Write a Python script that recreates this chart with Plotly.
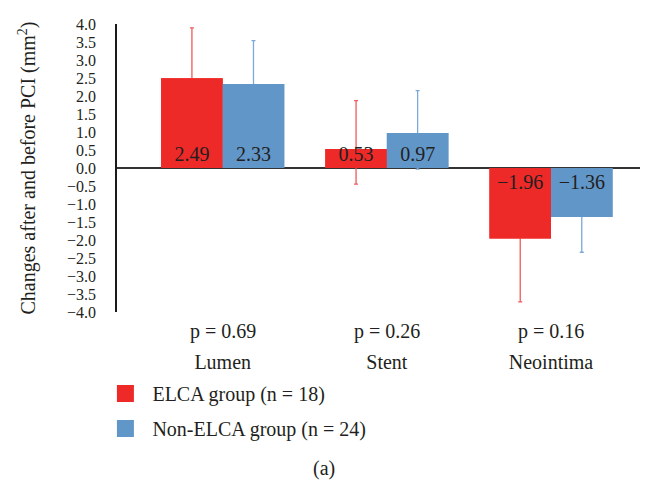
import plotly.graph_objects as go

# ---- data ----
categories = ["Lumen", "Stent", "Neointima"]
p_values = ["p = 0.69", "p = 0.26", "p = 0.16"]
elca_values = [2.49, 0.53, -1.96]
elca_err_plus = [1.40, 1.34, 1.76]
elca_err_minus = [1.40, 0.98, 1.76]
non_elca_values = [2.33, 0.97, -1.36]
non_elca_err_plus = [1.21, 1.18, 0.98]
non_elca_err_minus = [1.21, 1.00, 0.98]
series_names = ["ELCA group (n = 18)", "Non-ELCA group (n = 24)"]
panel_label = "(a)"

def fmt(v):
    s = f"{abs(v):.2f}"
    return ("\u2212" + s) if v < 0 else s

RED = "#EE2A29"
BLUE = "#6196C9"
RED_ERR = "#EE5A5C"
BLUE_ERR = "#7DA9D8"
TXT = "#231F20"
FONT = "Liberation Serif"
BW = 0.375

fig = go.Figure()

series = [
    (elca_values, elca_err_plus, elca_err_minus, RED, RED_ERR, -BW),
    (non_elca_values, non_elca_err_plus, non_elca_err_minus, BLUE, BLUE_ERR, 0.0),
]

# error bars (drawn first so that bars hide the parts inside them)
for vals, ep, em, col, ecol, off in series:
    fig.add_trace(go.Bar(
        x=categories, y=vals, width=BW, offset=off,
        marker=dict(color=col, line=dict(width=0)),
        error_y=dict(type="data", symmetric=False, array=ep, arrayminus=em,
                     color=ecol, thickness=1.3, width=2),
        showlegend=False, hoverinfo="skip",
    ))

# bars on top with value labels
for vals, ep, em, col, ecol, off in series:
    fig.add_trace(go.Bar(
        x=categories, y=vals, width=BW, offset=off,
        marker=dict(color=col, line=dict(width=0)),
        text=[fmt(v) for v in vals], textposition="inside",
        insidetextanchor="start", textangle=0, constraintext="none",
        textfont=dict(family=FONT, size=20, color=TXT),
        showlegend=False,
    ))

# legend entries
for name, (vals, ep, em, col, ecol, off), grp in zip(series_names, series, ["a", "b"]):
    fig.add_trace(go.Bar(
        x=[None], y=[None], name=name, legendgroup=grp,
        marker=dict(color=col, line=dict(color=col, width=5)),
    ))

for cat, p in zip(categories, p_values):
    fig.add_annotation(x=cat, y=0, xref="x", yref="paper", text=p,
                       showarrow=False, yanchor="top", yshift=-6,
                       font=dict(family=FONT, size=20, color=TXT))

fig.add_annotation(x=(316 - 109) / 531, y=0, xref="paper", yref="paper",
                   text=panel_label, showarrow=False, yanchor="middle",
                   yshift=-156, font=dict(family=FONT, size=20, color=TXT))

fig.update_layout(
    width=640, height=473,
    margin=dict(l=109, r=0, t=16, b=169, autoexpand=False),
    paper_bgcolor="white", plot_bgcolor="white",
    barmode="overlay",
    font=dict(family=FONT, size=20, color=TXT),
    showlegend=True,
    legend=dict(x=-0.035, xanchor="left", y=-0.215, yanchor="top",
                orientation="v", traceorder="grouped", tracegroupgap=6,
                font=dict(family=FONT, size=20, color=TXT),
                bgcolor="rgba(0,0,0,0)", itemwidth=44),
    xaxis=dict(range=[-0.644, 2.591], showgrid=False, showline=False,
               ticks="", ticklabelstandoff=36, zeroline=False, automargin=False,
               tickfont=dict(family=FONT, size=20, color=TXT)),
    yaxis=dict(range=[-4, 4], dtick=0.5, tick0=0, tickformat=".1f",
               showgrid=False, showline=True, linecolor="#1a1a1a", linewidth=1.5,
               ticks="", ticklabelstandoff=16, automargin=False,
               zeroline=True, zerolinecolor="#333333", zerolinewidth=2,
               tickfont=dict(family=FONT, size=16, color=TXT),
               title=dict(text="Changes after and before PCI (mm<sup>2</sup>)",
                          standoff=26, font=dict(family=FONT, size=20, color=TXT))),
)

fig.write_html("out.html")
